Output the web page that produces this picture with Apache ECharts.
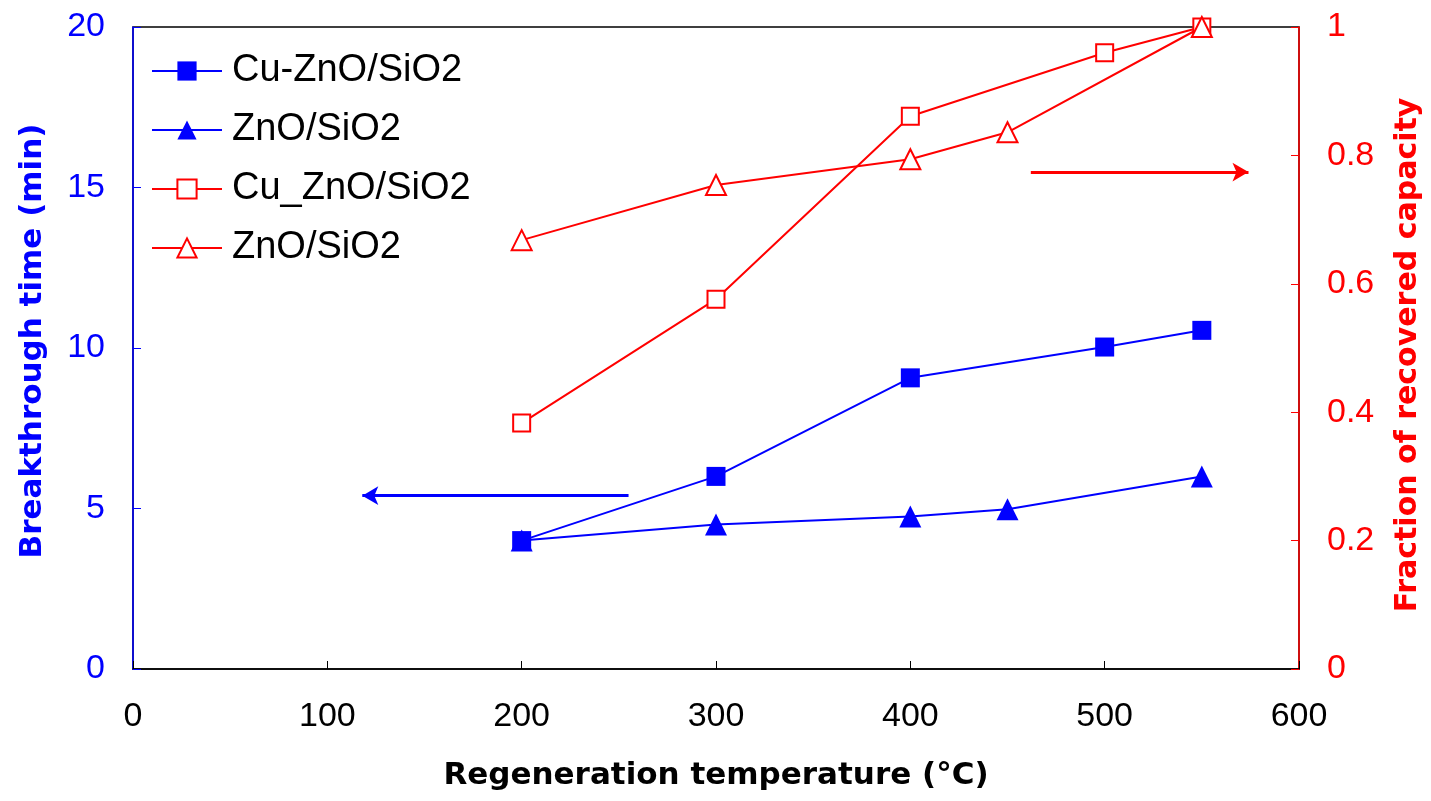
<!DOCTYPE html>
<html>
<head>
<meta charset="utf-8">
<script src="https://cdn.jsdelivr.net/npm/echarts@6/dist/echarts.min.js"></script>
<style>html,body{margin:0;padding:0;background:#fff;overflow:hidden;}#c{width:1431px;height:801px;}</style>
</head>
<body>
<div id="c"></div>
<script>
// Data
var cuZnOTemps = [200, 300, 400, 500, 550];
var cuZnOBreakthrough = [4.0, 6.0, 9.07, 10.03, 10.55];
var znOTemps = [200, 300, 400, 450, 550];
var znOBreakthrough = [4.0, 4.5, 4.75, 4.98, 6.0];
var cuZnOFraction = [0.383, 0.576, 0.861, 0.96, 1.0];
var znOFraction = [0.668, 0.754, 0.794, 0.836, 1.0];
var seriesNames = ['Cu-ZnO/SiO2', 'ZnO/SiO2', 'Cu_ZnO/SiO2', 'ZnO/SiO2 '];
var xTicks = [0, 100, 200, 300, 400, 500, 600];
// arrow annotations (data space): [x1, x2, y]
var blueArrow = [255, 118, 5.4];
var redArrow = [462, 574, 0.774];

function pairs(xs, ys) { return xs.map(function (x, i) { return [x, ys[i]]; }); }

var BLUE = '#0000ff', RED = '#ff0000';
var FONT = '"Liberation Sans", Arial, sans-serif';
var TFONT = '"DejaVu Sans", "Liberation Sans", sans-serif';

var chart = echarts.init(document.getElementById('c'), null, {renderer: 'canvas'});
chart.setOption({
  animation: false,
  backgroundColor: '#fff',
  grid: {left: 133, right: 131, top: 27, bottom: 132, show: true, borderColor: '#000', borderWidth: 1.5, backgroundColor: 'transparent'},
  legend: {
    orient: 'vertical', left: 146, top: 47,
    itemWidth: 70, itemHeight: 24, itemGap: 21,
    textStyle: {fontFamily: FONT, fontSize: 38, color: '#000', padding: [0, 0, 0, 5]},
    data: seriesNames
  },
  xAxis: {
    type: 'value', min: xTicks[0], max: xTicks[xTicks.length - 1], interval: 100,
    axisLine: {show: true, lineStyle: {color: '#000', width: 1.5}},
    axisTick: {show: true, inside: true, length: 8, lineStyle: {color: '#000'}},
    axisLabel: {color: '#000', fontSize: 34, fontFamily: FONT, margin: 31},
    splitLine: {show: false},
    name: 'Regeneration temperature (°C)', nameLocation: 'middle', nameGap: 91,
    nameTextStyle: {color: '#000', fontSize: 31, fontWeight: 'bold', fontFamily: TFONT}
  },
  yAxis: [{
    type: 'value', min: 0, max: 20, interval: 5, position: 'left',
    axisLine: {show: true, lineStyle: {color: BLUE, width: 1.5}},
    axisTick: {show: true, inside: true, length: 8, lineStyle: {color: BLUE}},
    axisLabel: {color: BLUE, fontSize: 34, fontFamily: FONT, margin: 28},
    splitLine: {show: false},
    name: 'Breakthrough time (min)', nameLocation: 'middle', nameGap: 85, nameRotate: 90,
    nameTextStyle: {color: BLUE, fontSize: 31, fontWeight: 'bold', fontFamily: TFONT, padding: [0, 0, 0, 14]}
  }, {
    type: 'value', min: 0, max: 1, interval: 0.2, position: 'right',
    axisLine: {show: true, lineStyle: {color: RED, width: 1.5}},
    axisTick: {show: true, inside: true, length: 8, lineStyle: {color: RED}},
    axisLabel: {color: RED, fontSize: 34, fontFamily: FONT, margin: 28},
    splitLine: {show: false},
    name: 'Fraction of recovered capacity', nameLocation: 'middle', nameGap: 94, nameRotate: 90,
    nameTextStyle: {color: RED, fontSize: 30, fontWeight: 'bold', fontFamily: TFONT, padding: [0, 14, 0, 0]}
  }],
  series: [{
    name: seriesNames[0], type: 'line', yAxisIndex: 0,
    data: pairs(cuZnOTemps, cuZnOBreakthrough),
    symbol: 'rect', symbolSize: 19,
    lineStyle: {color: BLUE, width: 2},
    itemStyle: {color: BLUE},
    markLine: {
      silent: true, symbol: ['none', 'arrow'], symbolSize: [14, 16], label: {show: false},
      lineStyle: {color: BLUE, width: 3, type: 'solid'},
      data: [[{coord: [blueArrow[0], blueArrow[2]]}, {coord: [blueArrow[1], blueArrow[2]]}]]
    }
  }, {
    name: seriesNames[1], type: 'line', yAxisIndex: 0,
    data: pairs(znOTemps, znOBreakthrough),
    symbol: 'triangle', symbolSize: 22,
    lineStyle: {color: BLUE, width: 2},
    itemStyle: {color: BLUE}
  }, {
    name: seriesNames[2], type: 'line', yAxisIndex: 1,
    data: pairs(cuZnOTemps, cuZnOFraction),
    symbol: 'rect', symbolSize: 17,
    lineStyle: {color: RED, width: 2},
    itemStyle: {color: '#fff', borderColor: RED, borderWidth: 2},
    markLine: {
      silent: true, symbol: ['none', 'arrow'], symbolSize: [14, 16], label: {show: false},
      lineStyle: {color: RED, width: 3, type: 'solid'},
      data: [[{coord: [redArrow[0], redArrow[2]]}, {coord: [redArrow[1], redArrow[2]]}]]
    }
  }, {
    name: seriesNames[3], type: 'line', yAxisIndex: 1,
    data: pairs(znOTemps, znOFraction),
    symbol: 'triangle', symbolSize: 20,
    lineStyle: {color: RED, width: 2},
    itemStyle: {color: '#fff', borderColor: RED, borderWidth: 2}
  }]
});
</script>
</body>
</html>
